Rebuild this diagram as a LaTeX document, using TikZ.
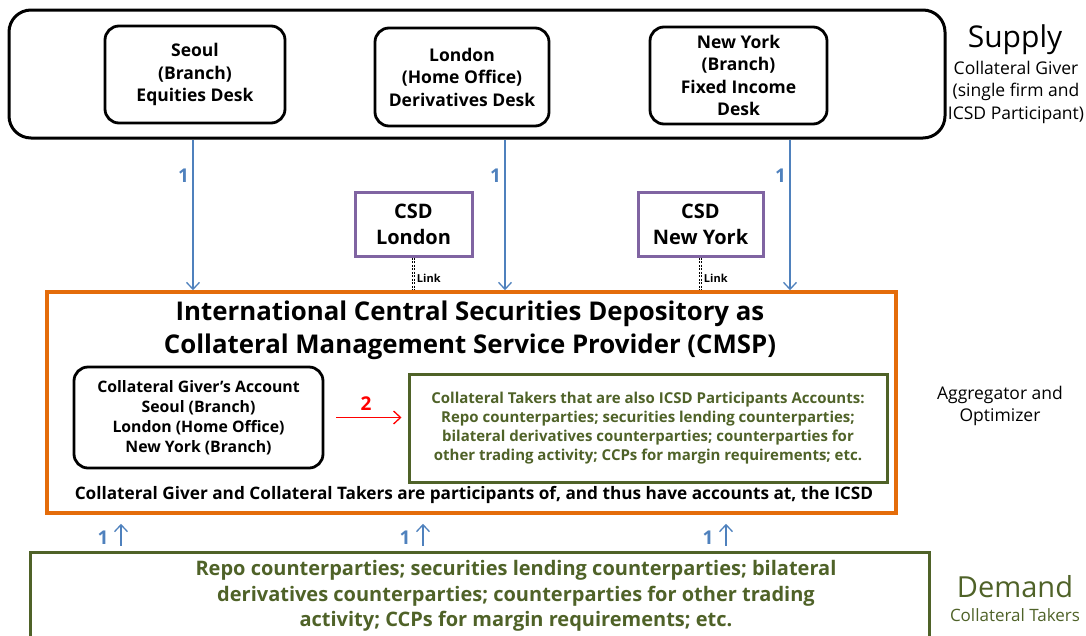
\documentclass[tikz,border=0pt]{standalone}
\usepackage{fontspec}
\setmainfont{Open Sans}
\usetikzlibrary{arrows.meta}
\definecolor{flowblue}{HTML}{4F81BD}
\definecolor{icsdorange}{HTML}{E46C0A}
\definecolor{csdpurple}{HTML}{8064A2}
\definecolor{takergreen}{HTML}{4F6228}

\tikzset{
  desk/.style={draw, line width=2.8pt, rounded corners=14pt, align=center, inner sep=0pt,
    font=\fontsize{17.5}{22.5}\selectfont\bfseries},
  csdbox/.style={draw=csdpurple, line width=3pt, align=center, inner sep=0pt,
    font=\fontsize{20}{26}\selectfont\bfseries},
  flow/.style={flowblue, line width=1.3pt, -{Straight Barb[length=7pt, width=13pt]}},
  flownum/.style={text=flowblue, font=\fontsize{19}{22}\selectfont\bfseries},
  linkline/.style={double, double distance=1.6pt, line width=0.9pt, dash pattern=on 2pt off 1.5pt},
  sidenote/.style={align=center, font=\fontsize{17.5}{22.5}\selectfont}
}

\begin{document}
\begin{tikzpicture}[x=1pt, y=-1pt]
  \clip (0,0) rectangle (1086,635);

  \node[desk, rounded corners=22pt, line width=3pt, minimum width=936pt, minimum height=128pt] (supply) at (477,74) {};
  \node[desk, minimum width=180pt, minimum height=97pt] (seoul) at (195,74.5) {Seoul\\(Branch)\\Equities Desk};
  \node[desk, minimum width=174pt, minimum height=98pt] (london) at (462,77) {London\\(Home Office)\\Derivatives Desk};
  \node[desk, minimum width=177pt, minimum height=97pt] (newyork) at (738.5,75.5) {New York\\(Branch)\\Fixed Income\\Desk};

  \node[font=\fontsize{30}{32}\selectfont] (supplylabel) at (1015,40) {Supply};
  \node[sidenote] (giver) at (1016,92) {Collateral Giver\\(single firm and\\ICSD Participant)};

  \node[csdbox, minimum width=117pt, minimum height=64pt] (csdl) at (413.5,224) {CSD\\London};
  \node[csdbox, minimum width=125pt, minimum height=64pt] (csdny) at (700.5,224) {CSD\\New York};

  \node[draw=icsdorange, line width=3.5pt, minimum width=849pt, minimum height=221pt] (icsd) at (471.5,402.5) {};
  \node[align=center, font=\fontsize{25.8}{33}\selectfont\bfseries] (title) at (470,330)
    {International Central Securities Depository as\\Collateral Management Service Provider (CMSP)};

  \node[desk, minimum width=249pt, minimum height=101pt, font=\fontsize{15.8}{20}\selectfont\bfseries] (account) at (198.5,417.5)
    {Collateral Giver’s Account\\Seoul (Branch)\\London (Home Office)\\New York (Branch)};
  \node[draw=takergreen, line width=3pt, text=takergreen, align=center, inner sep=0pt,
    minimum width=478pt, minimum height=108pt, font=\fontsize{15}{19}\selectfont\bfseries] (takers) at (648,428)
    {Collateral Takers that are also ICSD Participants Accounts:\\Repo counterparties; securities lending counterparties;\\bilateral derivatives counterparties; counterparties for\\other trading activity; CCPs for margin requirements; etc.};
  \node[font=\fontsize{17.2}{20}\selectfont\bfseries] (members) at (474,495)
    {Collateral Giver and Collateral Takers are participants of, and thus have accounts at, the ICSD};

  \node[sidenote] (aggregator) at (1000,406) {Aggregator and\\Optimizer};

  \node[draw=takergreen, line width=3pt, minimum width=899pt, minimum height=90pt] (demand) at (479.5,597) {};
  \node[text=takergreen, align=center, font=\fontsize{20}{25.5}\selectfont\bfseries] (demandtext) at (516,596)
    {Repo counterparties; securities lending counterparties; bilateral\\derivatives counterparties; counterparties for other trading\\activity; CCPs for margin requirements; etc.};
  \node[text=takergreen, font=\fontsize{29}{31}\selectfont] (demandlabel) at (1015,587) {Demand};
  \node[text=takergreen, font=\fontsize{17}{20}\selectfont] (takerlabel) at (1015,615) {Collateral Takers};

  \coordinate (xa) at (193,0);
  \coordinate (xb) at (505,0);
  \coordinate (xc) at (790,0);
  \draw[flow] (supply.south -| xa) -- (icsd.north -| xa) node[flownum, pos=0.24, anchor=east] {1};
  \draw[flow] (supply.south -| xb) -- (icsd.north -| xb) node[flownum, pos=0.24, anchor=east] {1};
  \draw[flow] (supply.south -| xc) -- (icsd.north -| xc) node[flownum, pos=0.24, anchor=east] {1};

  \draw[linkline] (csdl.south) -- (csdl.south |- icsd.north) node[pos=0.65, anchor=west, inner sep=3pt, font=\fontsize{11}{12}\selectfont\bfseries] {Link};
  \draw[linkline] (csdny.south) -- (csdny.south |- icsd.north) node[pos=0.65, anchor=west, inner sep=3pt, font=\fontsize{11}{12}\selectfont\bfseries] {Link};

  \draw[red, line width=1.3pt, -{Straight Barb[length=7pt, width=13pt]}, shorten <=12pt, shorten >=6pt]
    (account.east) -- (account.east -| takers.west) node[pos=0.5, anchor=south, inner sep=6pt, text=red, font=\fontsize{19}{22}\selectfont\bfseries] {2};

  \coordinate (ua) at (121,0);
  \coordinate (ub) at (423,0);
  \coordinate (uc) at (726,0);
  \draw[flow, shorten <=5pt, shorten >=9pt] (demand.north -| ua) -- (icsd.south -| ua) node[flownum, pos=0.35, anchor=east, inner sep=12pt] {1};
  \draw[flow, shorten <=5pt, shorten >=9pt] (demand.north -| ub) -- (icsd.south -| ub) node[flownum, pos=0.35, anchor=east, inner sep=12pt] {1};
  \draw[flow, shorten <=5pt, shorten >=9pt] (demand.north -| uc) -- (icsd.south -| uc) node[flownum, pos=0.35, anchor=east, inner sep=12pt] {1};
\end{tikzpicture}
\end{document}
